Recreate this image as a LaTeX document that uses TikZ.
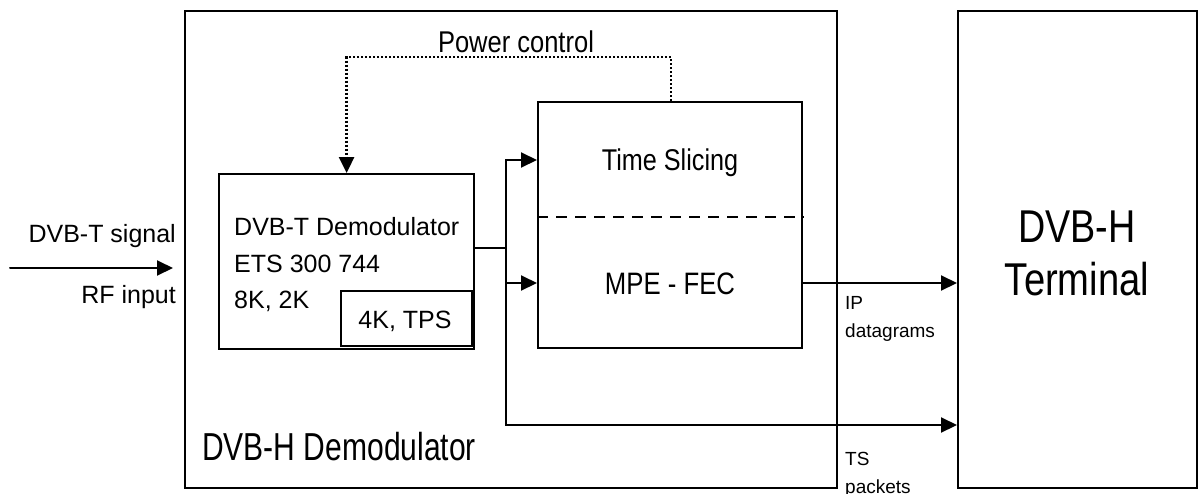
\documentclass[tikz,border=0pt]{standalone}
\usepackage{fontspec}
\setmainfont{Liberation Sans}
\usetikzlibrary{arrows.meta,calc}
\tikzset{
  box/.style={draw=black, line width=2.2pt, fill=white, inner sep=0pt, anchor=north west},
  wire/.style={draw=black, line width=2pt},
  arr/.style={wire, -{Triangle[length=16pt,width=15pt]}},
  pcline/.style={draw=black, line width=2.6pt, dash pattern=on 2.5pt off 1.5pt, -{Triangle[length=16pt,width=15pt]}},
  sepline/.style={draw=black, line width=2pt, dash pattern=on 11pt off 8pt},
  lbl/.style={inner sep=0pt, font=\fontsize{25}{30}\selectfont},
  small/.style={inner sep=0pt, font=\fontsize{19}{22}\selectfont, anchor=base west},
}
\begin{document}
\begin{tikzpicture}[x=1pt,y=-1pt]
\useasboundingbox (0,0) rectangle (1198,493);
\clip (0,0) rectangle (1198,493);
\fill[white] (0,0) rectangle (1198,493);

% boxes
\node[box, minimum width=652pt, minimum height=477pt] (demod) at (184,10) {};
\node[box, minimum width=239pt, minimum height=477pt] (term) at (957,10) {};
\node[box, minimum width=255pt, minimum height=175pt] (dvbt) at (218,173) {};
\node[box, minimum width=131pt, minimum height=55pt] (tps) at (340,290) {};
\node[box, minimum width=264pt, minimum height=246pt] (tsbox) at (537,101) {};

% separator in time slicing box
\draw[sepline] (tsbox.west |- 0,217) -- (tsbox.east |- 0,217);

% texts
\node[lbl, anchor=base west] (t1) at (234,235) {DVB-T Demodulator};
\node[lbl, anchor=base west] (t2) at (234,272) {ETS 300 744};
\node[lbl, anchor=base west] (t3) at (234,308) {8K, 2K};
\node[lbl, anchor=base] (t4) at (405,328) {4K, TPS};
\node[lbl, anchor=base east] (sig) at (176,242) {DVB-T signal};
\node[lbl, anchor=base east] (rfin) at (176,303) {RF input};
\node[lbl, anchor=base] (tslice) at (670,170) {\fontsize{30}{34}\selectfont\scalebox{0.84}[1]{Time Slicing}};
\node[lbl, anchor=base] (mpe) at (670,294) {\fontsize{31}{34}\selectfont\scalebox{0.83}[1]{MPE - FEC}};
\node[lbl, anchor=base] (pc) at (516,52) {\fontsize{30}{34}\selectfont\scalebox{0.85}[1]{Power control}};
\node[lbl, anchor=base west] (dhd) at (202,460) {\fontsize{39}{44}\selectfont\scalebox{0.77}[1]{DVB-H Demodulator}};
\node[lbl, anchor=base] (dht1) at (1077,242) {\fontsize{46}{50}\selectfont\scalebox{0.82}[1]{DVB-H}};
\node[lbl, anchor=base] (dht2) at (1077,295) {\fontsize{46}{50}\selectfont\scalebox{0.83}[1]{Terminal}};
\node[small] (ip1) at (845,309) {IP};
\node[small] (ip2) at (845,337) {datagrams};
\node[small] (ts1) at (845,465) {TS};
\node[small] (ts2) at (845,493) {packets};

% connectors
\coordinate (rfa) at (10,268);
\coordinate (rfb) at (173,268);
\draw[arr, line cap=round] (rfa) -- (rfb);

\coordinate (split) at (506,248);
\draw[wire] (dvbt.east |- split) -- (split);
\draw[arr] (split) |- (tsbox.west |- 0,160);
\draw[arr] (split) |- (tsbox.west |- 0,283);
\draw[arr] (split) |- (term.west |- 0,425);
\draw[arr] (tsbox.east |- 0,283) -- (term.west |- 0,283);

\coordinate (pctop) at (671,57);
\draw[pcline] (tsbox.north -| pctop) -- (pctop) -| (dvbt.north);
\end{tikzpicture}
\end{document}
